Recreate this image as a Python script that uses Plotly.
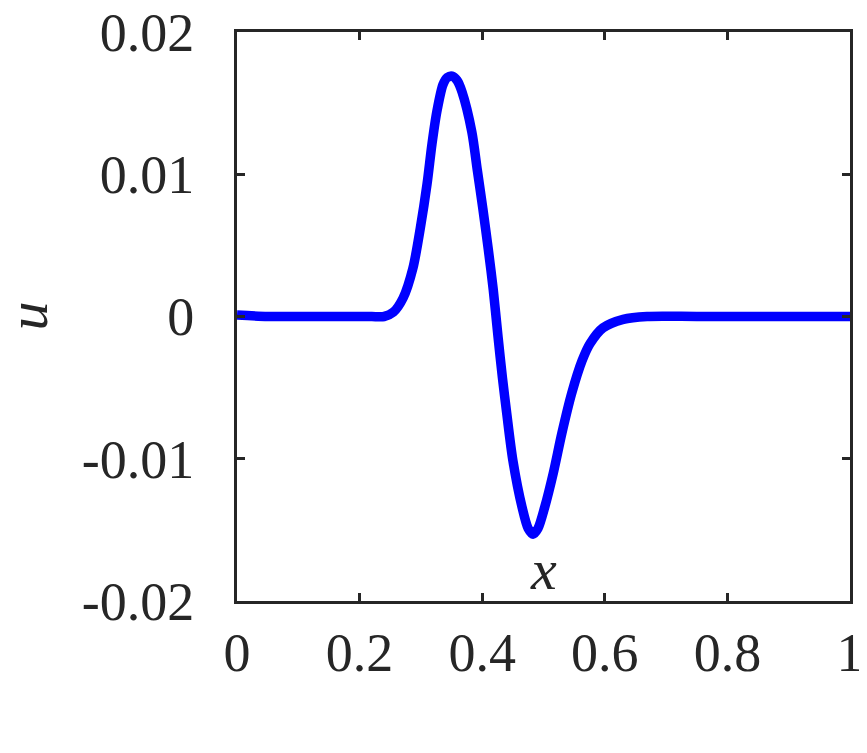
import plotly.graph_objects as go

# curve
x_vals = [0.0, 0.05, 0.10, 0.15, 0.20, 0.22, 0.24, 0.255, 0.271, 0.287,
          0.299, 0.310, 0.318, 0.326, 0.336, 0.343, 0.351, 0.359, 0.367, 0.383,
          0.392, 0.401, 0.410, 0.418, 0.426, 0.433, 0.440, 0.450, 0.465, 0.475,
          0.483, 0.491, 0.502, 0.516, 0.530, 0.546, 0.563, 0.576, 0.597, 0.630,
          0.669, 0.75, 0.85, 1.0]
u_vals = [0.0001, 0.0, 0.0, 0.0, 0.0, 0.0, 0.0, 0.0003, 0.0013, 0.0034,
          0.0062, 0.0093, 0.0121, 0.0144, 0.0163, 0.0168, 0.0169, 0.0166, 0.0158, 0.0130,
          0.0103, 0.0076, 0.0047, 0.0019, -0.0015, -0.0043, -0.0068, -0.0101, -0.0134, -0.0149,
          -0.0153, -0.0149, -0.0134, -0.0110, -0.0082, -0.0054, -0.0031, -0.0019, -0.0008, -0.0002,
          0.0, 0.0, 0.0, 0.0]

x_ticks = [0, 0.2, 0.4, 0.6, 0.8, 1]
x_labels = ["0", "0.2", "0.4", "0.6", "0.8", "1"]
y_ticks = [-0.02, -0.01, 0, 0.01, 0.02]
y_labels = ["-0.02", "-0.01", "0", "0.01", "0.02"]

ink = "#262626"
font = dict(family="Liberation Serif", size=54, color=ink)
title_font = dict(family="Liberation Serif", size=58, color=ink)

axis_style = dict(showline=True, linewidth=3, linecolor=ink, mirror="ticks",
                  ticks="inside", ticklen=8, tickwidth=3, tickcolor=ink,
                  showgrid=False, zeroline=False, tickfont=font, automargin=False,
                  ticklabeloverflow="allow")

fig = go.Figure(go.Scatter(x=x_vals, y=u_vals, mode="lines",
                           line=dict(color="#0000ff", width=9.5, shape="spline",
                                     smoothing=0.8)))

# page body adds 8px around the figure, so size/margins are trimmed by that
fig.update_layout(
    width=859, height=745,
    margin=dict(l=229, r=17, t=24, b=152),
    paper_bgcolor="white", plot_bgcolor="white",
    showlegend=False,
    font=font,
    xaxis=dict(range=[0, 1], tickvals=x_ticks, ticktext=x_labels,
               ticklabelstandoff=2, **axis_style),
    yaxis=dict(range=[-0.02, 0.02], tickvals=y_ticks, ticktext=y_labels,
               ticklabelstandoff=29, **axis_style),
)

# axis titles as annotations so they can sit where the reference has them
fig.add_annotation(text="<i>x</i>", font=title_font, showarrow=False,
                   xref="x domain", yref="paper", x=0.5, y=0,
                   xanchor="center", yanchor="bottom", yshift=-3)
fig.add_annotation(text="<i>u</i>", font=title_font, showarrow=False,
                   textangle=-90, xref="x domain", yref="y domain", x=0, y=0.5,
                   xanchor="center", yanchor="middle", xshift=-210)

fig.write_html("out.html")
